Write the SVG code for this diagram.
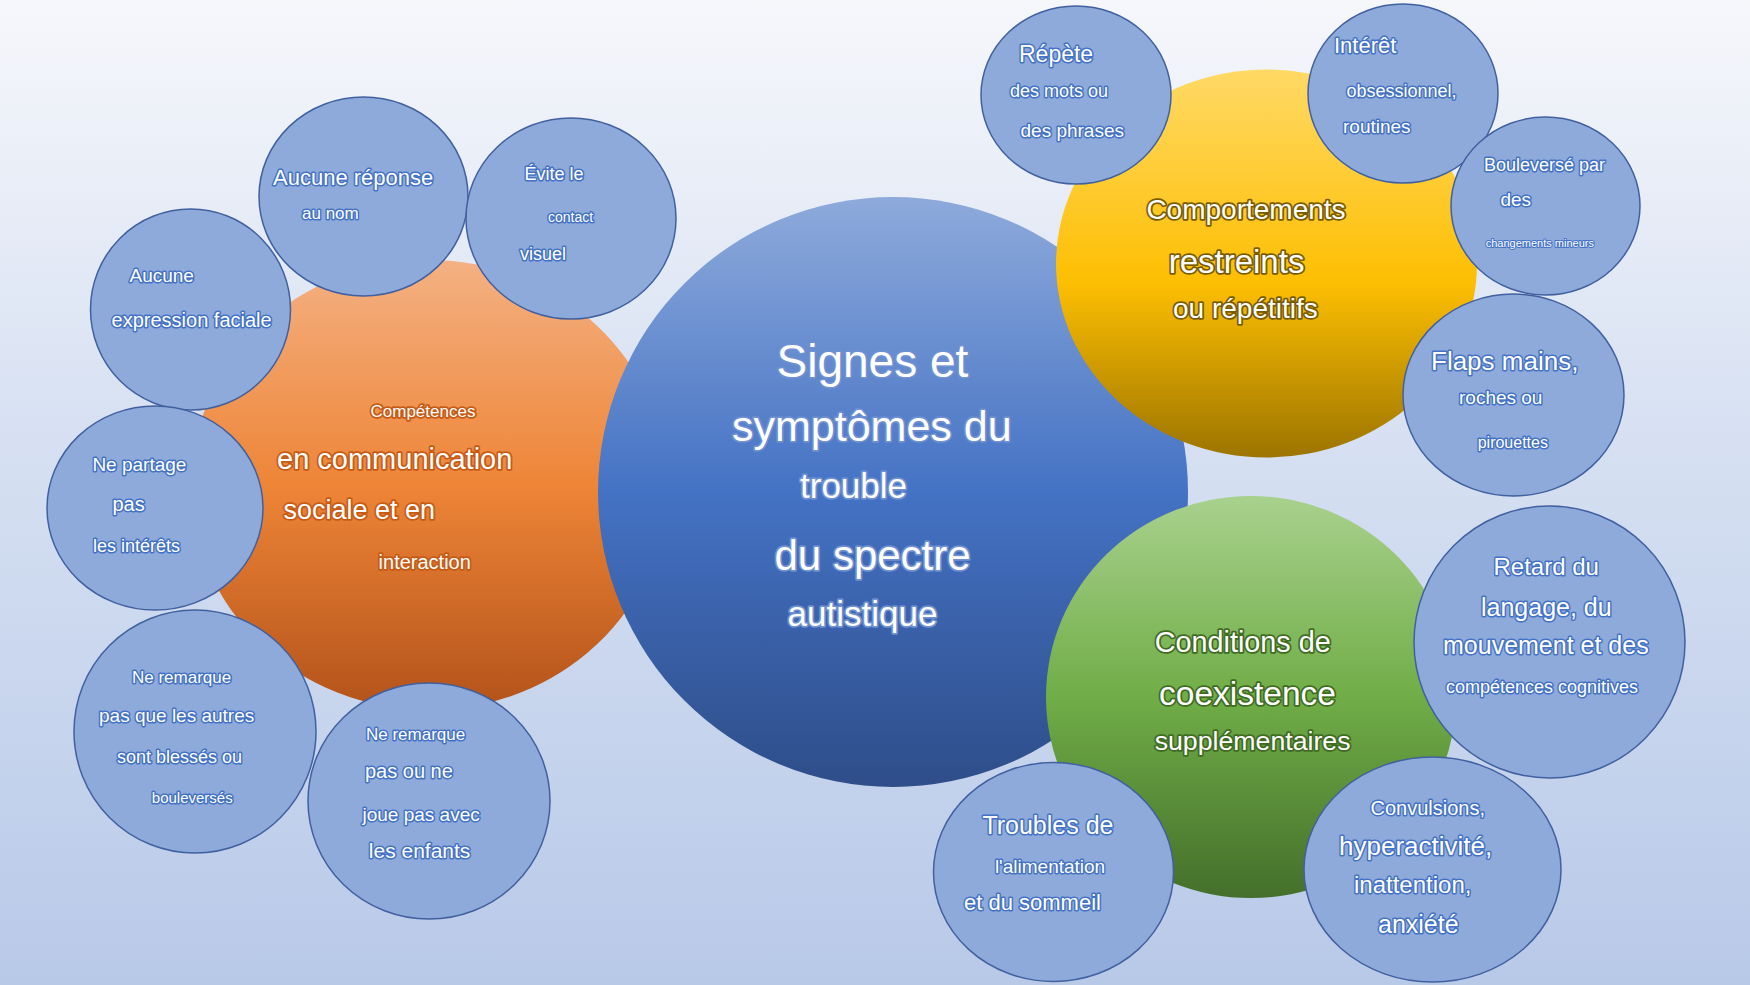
<svg xmlns="http://www.w3.org/2000/svg" width="1750" height="985" viewBox="0 0 1750 985">
<defs>
<linearGradient id="bg" x1="0" y1="0" x2="0" y2="1">
<stop offset="0" stop-color="#f6f7fb"/>
<stop offset="0.45" stop-color="#d6e0f2"/>
<stop offset="1" stop-color="#b8c9e8"/>
</linearGradient>
<linearGradient id="gMain" x1="0" y1="0" x2="0" y2="1">
<stop offset="0" stop-color="#8eaadb"/>
<stop offset="0.5" stop-color="#4472c4"/>
<stop offset="1" stop-color="#2e4d89"/>
</linearGradient>
<linearGradient id="gOrange" x1="0" y1="0" x2="0" y2="1">
<stop offset="0" stop-color="#f4b183"/>
<stop offset="0.5" stop-color="#ee8537"/>
<stop offset="1" stop-color="#b3521a"/>
</linearGradient>
<linearGradient id="gYellow" x1="0" y1="0" x2="0" y2="1">
<stop offset="0" stop-color="#ffd966"/>
<stop offset="0.55" stop-color="#fdbf02"/>
<stop offset="1" stop-color="#9c7400"/>
</linearGradient>
<linearGradient id="gGreen" x1="0" y1="0" x2="0" y2="1">
<stop offset="0" stop-color="#a9d18e"/>
<stop offset="0.5" stop-color="#70ad47"/>
<stop offset="1" stop-color="#446f2b"/>
</linearGradient>
</defs>
<style>
text{font-family:"Liberation Sans",Arial,sans-serif;fill:#ffffff;paint-order:stroke fill;stroke-linejoin:round}
.sm{fill:#8eaadb;stroke:#41609f;stroke-width:1.5}
.tb{stroke:#4472c4;stroke-width:3}
.tm{stroke:#6f90d2;stroke-width:3.5}
.to{stroke:#c65b16;stroke-width:3.5}
.ty{stroke:#7a5c00;stroke-width:3.5}
.tg{stroke:#3f6b22;stroke-width:3.5}
</style>
<rect id="background" x="0" y="0" width="1750" height="985" fill="url(#bg)"/>
<g id="connectors"></g>

<g id="n-orange">
<ellipse cx="429" cy="485" rx="238" ry="225" fill="url(#gOrange)"/>
<text class="to" x="370.5" y="417" font-size="17">Compétences</text>
<text class="to" x="277" y="469" font-size="29">en communication</text>
<text class="to" x="283.5" y="519" font-size="27">sociale et en</text>
<text class="to" x="378.6" y="569" font-size="20">interaction</text>
</g>

<g id="n-main">
<circle cx="893" cy="492" r="295" fill="url(#gMain)"/>
<text class="tm" x="776.5" y="376.5" font-size="46">Signes et</text>
<text class="tm" x="732" y="441" font-size="43">symptômes du</text>
<text class="tm" x="800" y="497.5" font-size="35">trouble</text>
<text class="tm" x="774.5" y="569.5" font-size="42">du spectre</text>
<text class="tm" x="787.6" y="626" font-size="35">autistique</text>
</g>

<g id="n-yellow">
<ellipse cx="1266.5" cy="263.5" rx="210.5" ry="194" fill="url(#gYellow)"/>
<text class="ty" x="1146.4" y="219.3" font-size="28">Comportements</text>
<text class="ty" x="1168.7" y="273.3" font-size="33">restreints</text>
<text class="ty" x="1173" y="318.3" font-size="28">ou répétitifs</text>
</g>

<g id="n-green">
<ellipse cx="1251" cy="697" rx="205" ry="201" fill="url(#gGreen)"/>
<text class="tg" x="1154.7" y="651.7" font-size="28.8">Conditions de</text>
<text class="tg" x="1159" y="705" font-size="33.5">coexistence</text>
<text class="tg" x="1154.7" y="750" font-size="26.7">supplémentaires</text>
</g>

<g id="n-aucune-reponse">
<ellipse class="sm" cx="363.5" cy="196.5" rx="104.5" ry="99.5"/>
<text class="tb" x="273" y="185" font-size="22">Aucune réponse</text>
<text class="tb" x="302" y="219" font-size="17">au nom</text>
</g>

<g id="n-evite">
<ellipse class="sm" cx="571" cy="218.5" rx="105" ry="100.5"/>
<text class="tb" x="524.5" y="180" font-size="18">Évite le</text>
<text class="tb" x="548" y="221.7" font-size="14">contact</text>
<text class="tb" x="520" y="260" font-size="18">visuel</text>
</g>

<g id="n-expression">
<ellipse class="sm" cx="190.5" cy="309.5" rx="100" ry="100.5"/>
<text class="tb" x="129.5" y="281.7" font-size="19">Aucune</text>
<text class="tb" x="111.6" y="326.7" font-size="20">expression faciale</text>
</g>

<g id="n-partage">
<ellipse class="sm" cx="155" cy="508" rx="108" ry="102"/>
<text class="tb" x="92.4" y="470.7" font-size="19">Ne partage</text>
<text class="tb" x="112.5" y="511" font-size="20">pas</text>
<text class="tb" x="92.9" y="551.7" font-size="18">les intérêts</text>
</g>

<g id="n-blesses">
<ellipse class="sm" cx="195" cy="731.5" rx="121" ry="121.5"/>
<text class="tb" x="132" y="682.8" font-size="17">Ne remarque</text>
<text class="tb" x="99" y="722.4" font-size="19">pas que les autres</text>
<text class="tb" x="117" y="762.8" font-size="18">sont blessés ou</text>
<text class="tb" x="151.8" y="803" font-size="15">bouleversés</text>
</g>

<g id="n-enfants">
<ellipse class="sm" cx="429" cy="801" rx="121" ry="118"/>
<text class="tb" x="366" y="739.7" font-size="17">Ne remarque</text>
<text class="tb" x="365" y="777.6" font-size="20">pas ou ne</text>
<text class="tb" x="362.5" y="820.7" font-size="19">joue pas avec</text>
<text class="tb" x="368.8" y="858" font-size="21">les enfants</text>
</g>

<g id="n-repete">
<ellipse class="sm" cx="1076" cy="95" rx="95" ry="89"/>
<text class="tb" x="1019" y="61.7" font-size="23">Répète</text>
<text class="tb" x="1010" y="97.3" font-size="18">des mots ou</text>
<text class="tb" x="1020.5" y="137.3" font-size="19">des phrases</text>
</g>

<g id="n-interet">
<ellipse class="sm" cx="1403" cy="93.5" rx="95" ry="89.5"/>
<text class="tb" x="1334" y="53.3" font-size="22">Intérêt</text>
<text class="tb" x="1346.4" y="97.3" font-size="18">obsessionnel,</text>
<text class="tb" x="1343" y="132.7" font-size="19">routines</text>
</g>

<g id="n-bouleverse">
<ellipse class="sm" cx="1545.5" cy="206" rx="94.5" ry="89"/>
<text class="tb" x="1484" y="170.7" font-size="18">Bouleversé par</text>
<text class="tb" x="1500.4" y="206" font-size="19">des</text>
<text class="tb" x="1485.7" y="247.3" font-size="11" style="stroke-width:2">changements mineurs</text>
</g>

<g id="n-flaps">
<ellipse class="sm" cx="1513.5" cy="395" rx="110.5" ry="101"/>
<text class="tb" x="1431" y="370" font-size="26">Flaps mains,</text>
<text class="tb" x="1459" y="404" font-size="19">roches ou</text>
<text class="tb" x="1477.7" y="448.3" font-size="16">pirouettes</text>
</g>

<g id="n-retard">
<ellipse class="sm" cx="1549.5" cy="642" rx="135.5" ry="136"/>
<text class="tb" x="1493.5" y="575" font-size="24">Retard du</text>
<text class="tb" x="1481" y="616" font-size="25">langage, du</text>
<text class="tb" x="1443" y="654" font-size="25">mouvement et des</text>
<text class="tb" x="1446" y="693" font-size="18">compétences cognitives</text>
</g>

<g id="n-troubles">
<ellipse class="sm" cx="1053.5" cy="872" rx="120" ry="109.5"/>
<text class="tb" x="982.4" y="834" font-size="25">Troubles de</text>
<text class="tb" x="994.9" y="873.3" font-size="19">l'alimentation</text>
<text class="tb" x="964" y="910" font-size="22">et du sommeil</text>
</g>

<g id="n-convulsions">
<ellipse class="sm" cx="1432.5" cy="869.5" rx="128.5" ry="112.5"/>
<text class="tb" x="1370.5" y="815" font-size="20">Convulsions,</text>
<text class="tb" x="1339" y="855" font-size="26">hyperactivité,</text>
<text class="tb" x="1354" y="893.3" font-size="24">inattention,</text>
<text class="tb" x="1378" y="933.3" font-size="25">anxiété</text>
</g>
</svg>
